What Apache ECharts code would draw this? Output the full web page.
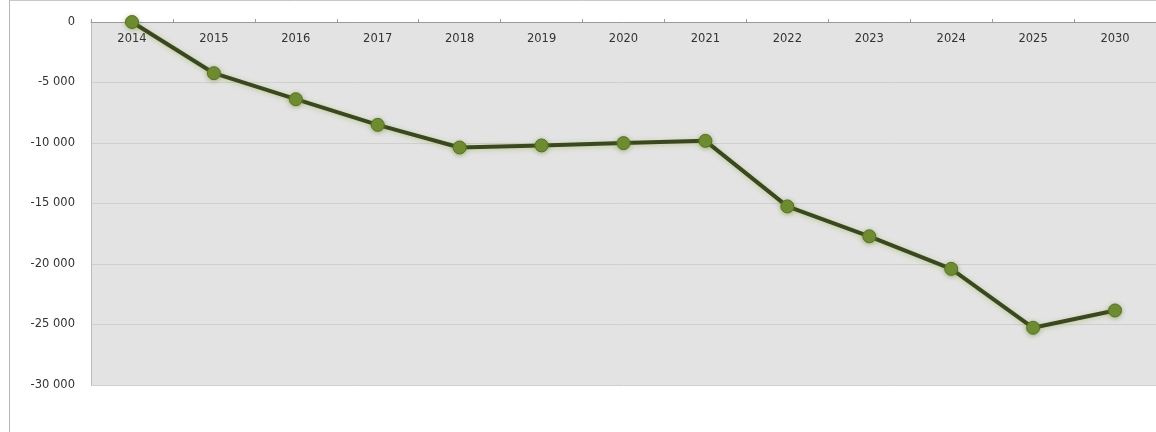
<!DOCTYPE html>
<html>
<head>
<meta charset="utf-8">
<script src="https://cdn.jsdelivr.net/npm/echarts@6/dist/echarts.min.js"></script>
<style>
html,body{margin:0;padding:0;background:#fff;}
#chart{width:1156px;height:432px;}
</style>
</head>
<body>
<div id="chart"></div>
<script>
const years = ['2014','2015','2016','2017','2018','2019','2020','2021','2022','2023','2024','2025','2030'];
const values = [0, -4230, -6380, -8500, -10370, -10200, -10010, -9820, -15240, -17710, -20400, -25270, -23840];
const yTicks = { min: -30000, max: 0, interval: 5000 };

const chart = echarts.init(document.getElementById('chart'), null, {renderer: 'canvas'});
const fmt = v => {
  const s = Math.abs(v).toString().replace(/\B(?=(\d{3})+(?!\d))/g, ' ');
  return (v < 0 ? '-' : '') + s;
};
const font = 'DejaVu Sans, Verdana, sans-serif';
chart.setOption({
  animation: false,
  backgroundColor: '#ffffff',
  graphic: [
    {type: 'line', shape: {x1: 9.5, y1: 0, x2: 9.5, y2: 432}, style: {stroke: '#b5b5b5', lineWidth: 1}},
    {type: 'line', shape: {x1: 9, y1: 0.5, x2: 1156, y2: 0.5}, style: {stroke: '#c8c8c8', lineWidth: 1}}
  ],
  grid: {
    left: 91, top: 22, width: 1079, height: 363,
    show: true, backgroundColor: '#e3e3e3', borderWidth: 0
  },
  xAxis: {
    type: 'category',
    data: years,
    position: 'top',
    boundaryGap: true,
    axisLine: {show: true, onZero: false, lineStyle: {color: '#9a9a9a', width: 1}},
    axisTick: {show: true, inside: false, length: 3, lineStyle: {color: '#9a9a9a'}},
    axisLabel: {inside: true, margin: 11, color: '#333', fontFamily: font, fontSize: 11.5},
    splitLine: {show: false}
  },
  yAxis: {
    type: 'value',
    min: yTicks.min, max: yTicks.max, interval: yTicks.interval,
    axisLine: {show: true, lineStyle: {color: '#bdbdbd', width: 1}},
    axisTick: {show: false},
    axisLabel: {margin: 16, color: '#333', fontFamily: font, fontSize: 11.5, formatter: fmt},
    splitLine: {show: true, lineStyle: {color: '#cfcfcf', width: 1}}
  },
  series: [{
    type: 'line',
    data: values,
    symbol: 'circle',
    symbolSize: 13,
    lineStyle: {color: '#3a4820', width: 4, shadowColor: 'rgba(140,170,50,0.45)', shadowBlur: 5, shadowOffsetY: 1},
    itemStyle: {color: '#6f8c32', borderColor: '#55702a', borderWidth: 1, shadowColor: 'rgba(110,140,40,0.5)', shadowBlur: 4, shadowOffsetY: 1},
    z: 5
  }]
});
</script>
</body>
</html>
